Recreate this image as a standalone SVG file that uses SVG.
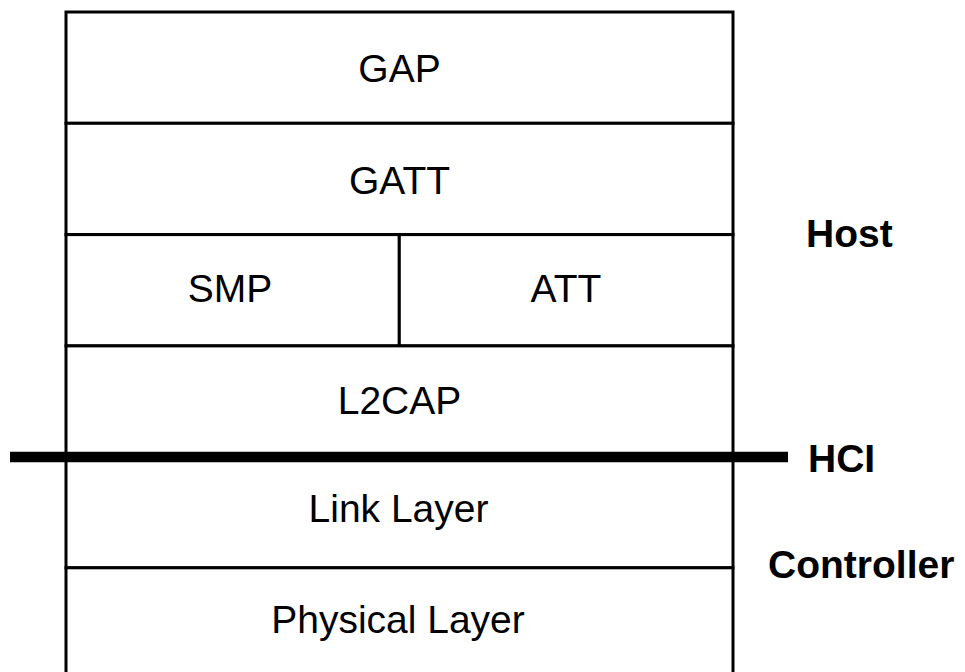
<svg xmlns="http://www.w3.org/2000/svg" width="965" height="672" viewBox="0 0 965 672">
  <style>
    .box { fill: #ffffff; stroke: #000000; stroke-width: 3; }
    .lbl { font-family: "Liberation Sans", Arial, sans-serif; font-size: 39px; fill: #000000; text-anchor: middle; }
    .side { font-family: "Liberation Sans", Arial, sans-serif; font-size: 39px; font-weight: bold; fill: #000000; }
    .bus { stroke: #000000; stroke-width: 10.5; fill: none; }
  </style>
  <rect width="965" height="672" fill="#ffffff"/>

  <!-- protocol stack layers -->
  <g id="gap">
    <rect class="box" x="66" y="12" width="667" height="111.3"/>
    <text class="lbl" x="399.5" y="82">GAP</text>
  </g>
  <g id="gatt">
    <rect class="box" x="66" y="123.3" width="667" height="111.3"/>
    <text class="lbl" x="399.5" y="193.5">GATT</text>
  </g>
  <g id="smp">
    <rect class="box" x="66" y="234.6" width="333.3" height="111.3"/>
    <text class="lbl" x="230" y="302">SMP</text>
  </g>
  <g id="att">
    <rect class="box" x="399.3" y="234.6" width="333.7" height="111.3"/>
    <text class="lbl" x="566" y="302">ATT</text>
  </g>
  <g id="l2cap">
    <rect class="box" x="66" y="345.9" width="667" height="111.3"/>
    <text class="lbl" x="399.5" y="414">L2CAP</text>
  </g>
  <g id="link-layer">
    <rect class="box" x="66" y="457.2" width="667" height="110.6"/>
    <text class="lbl" x="398.5" y="522">Link Layer</text>
  </g>
  <g id="physical-layer">
    <rect class="box" x="66" y="567.8" width="667" height="111.3"/>
    <text class="lbl" x="398" y="633">Physical Layer</text>
  </g>

  <!-- host / controller boundary -->
  <g id="connectors">
    <line class="bus" x1="10" y1="457" x2="788" y2="457"/>
  </g>

  <!-- side labels -->
  <g id="host">
    <text class="side" x="806" y="247">Host</text>
  </g>
  <g id="hci">
    <text class="side" x="808" y="472">HCI</text>
  </g>
  <g id="controller">
    <text class="side" x="768" y="578">Controller</text>
  </g>
</svg>
